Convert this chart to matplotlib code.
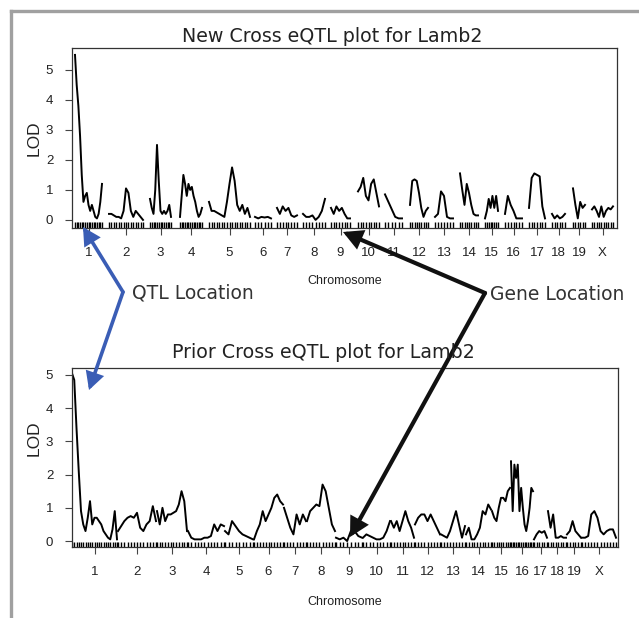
import numpy as np
import matplotlib
matplotlib.use('Agg')
import matplotlib.pyplot as plt
from matplotlib.patches import FancyArrowPatch
from matplotlib.lines import Line2D

# chromosome names
chroms = ['1', '2', '3', '4', '5', '6', '7', '8', '9', '10', '11', '12',
          '13', '14', '15', '16', '17', '18', '19', 'X']

# New cross: chromosome spans on the genome axis and LOD per marker
new_start = [3, 37, 78, 108, 137, 183, 205, 231, 259, 286, 313, 338, 363, 388, 413, 433, 457, 480, 501, 520]
new_end = [30, 71, 99, 130, 178, 199, 225, 253, 278, 307, 330, 356, 381, 406, 426, 450, 473, 493, 513, 541]
new_lod = [
    [5.5, 4.5, 3.8, 2.8, 1.5, 0.6, 0.8, 0.9, 0.5, 0.3, 0.5, 0.3, 0.1, 0.05, 0.2, 0.6, 1.2],
    [0.2, 0.2, 0.15, 0.1, 0.1, 0.05, 0.3, 1.05, 0.9, 0.3, 0.1, 0.3, 0.2, 0.1, 0.0],
    [0.7, 0.4, 0.2, 1.0, 2.5, 1.3, 0.3, 0.2, 0.3, 0.2, 0.3, 0.5, 0.1],
    [0.1, 0.8, 1.5, 1.2, 0.8, 1.2, 1.0, 1.1, 0.8, 0.6, 0.3, 0.1, 0.2, 0.4],
    [0.6, 0.3, 0.3, 0.25, 0.2, 0.15, 0.1, 0.6, 1.2, 1.75, 1.3, 0.5, 0.3, 0.5, 0.2, 0.4, 0.1],
    [0.1, 0.05, 0.1, 0.08, 0.1, 0.05],
    [0.4, 0.2, 0.45, 0.3, 0.4, 0.15, 0.1, 0.15],
    [0.2, 0.1, 0.1, 0.15, 0.0, 0.1, 0.3, 0.7],
    [0.4, 0.2, 0.45, 0.3, 0.4, 0.2, 0.05, 0.05],
    [0.95, 1.1, 1.4, 0.8, 0.65, 1.2, 1.35, 0.9, 0.45],
    [0.85, 0.6, 0.35, 0.1, 0.05, 0.05],
    [0.5, 1.3, 1.35, 1.3, 0.9, 0.4, 0.1, 0.3, 0.4],
    [0.1, 0.2, 0.95, 0.8, 0.1, 0.05, 0.05],
    [1.55, 1.0, 0.5, 1.2, 0.9, 0.5, 0.2, 0.15, 0.15],
    [0.05, 0.3, 0.7, 0.4, 0.8, 0.4, 0.8, 0.3],
    [0.2, 0.8, 0.5, 0.3, 0.05, 0.05, 0.05],
    [0.4, 1.4, 1.55, 1.5, 1.45, 0.45, 0.05],
    [0.2, 0.05, 0.15, 0.05, 0.1, 0.2],
    [1.05, 0.5, 0.05, 0.6, 0.4, 0.5],
    [0.35, 0.45, 0.3, 0.1, 0.45, 0.1, 0.3, 0.4, 0.35, 0.45],
]

# Prior cross
prior_start = [0, 46, 85, 116, 153, 182, 212, 235, 264, 291, 319, 343, 369, 394, 420, 439, 462, 476, 495, 510]
prior_end = [45, 84, 115, 152, 181, 211, 234, 263, 290, 318, 342, 368, 393, 419, 438, 461, 475, 494, 509, 544]
prior_lod = [
    [5.05, 4.85, 3.4, 2.1, 0.9, 0.5, 0.3, 0.7, 1.2, 0.5, 0.7, 0.7, 0.6, 0.5, 0.3, 0.2, 0.1, 0.05, 0.35, 0.9, 0.05],
    [0.3, 0.45, 0.6, 0.7, 0.75, 0.7, 0.85, 0.4, 0.3, 0.5, 0.6, 1.05, 0.6],
    [0.9, 0.5, 1.0, 0.6, 0.8, 0.8, 0.85, 0.9, 1.1, 1.5, 1.2, 0.3],
    [0.3, 0.1, 0.05, 0.05, 0.05, 0.1, 0.1, 0.15, 0.5, 0.3, 0.5, 0.45],
    [0.3, 0.2, 0.6, 0.45, 0.3, 0.2, 0.15, 0.1, 0.05],
    [0.05, 0.3, 0.5, 0.9, 0.6, 0.8, 1.0, 1.3, 1.4, 1.2, 1.1],
    [1.0, 0.7, 0.4, 0.2, 0.8, 0.5, 0.8, 0.6],
    [0.6, 0.9, 1.0, 1.1, 1.05, 1.7, 1.5, 1.0, 0.5, 0.3],
    [0.1, 0.05, 0.1, 0.0, 0.3, 0.3, 0.15, 0.1],
    [0.1, 0.2, 0.15, 0.1, 0.05, 0.05, 0.1, 0.3, 0.6],
    [0.6, 0.4, 0.6, 0.3, 0.6, 0.9, 0.6, 0.4, 0.1],
    [0.5, 0.7, 0.8, 0.8, 0.6, 0.8, 0.6, 0.4, 0.2],
    [0.2, 0.15, 0.1, 0.3, 0.6, 0.9, 0.5, 0.1, 0.45],
    [0.2, 0.4, 0.05, 0.05, 0.2, 0.4, 0.9, 0.8, 1.1, 0.95],
    [0.9, 0.7, 0.6, 1.0, 1.3, 1.3, 1.2, 1.5, 1.6],
    [2.4, 0.9, 2.3, 1.9, 2.3, 0.9, 1.6, 1.0, 0.5, 0.3, 0.6, 1.0, 1.6, 1.5],
    [0.05, 0.2, 0.3, 0.25, 0.3, 0.1],
    [0.9, 0.4, 0.8, 0.1, 0.1, 0.15, 0.1, 0.1],
    [0.2, 0.3, 0.6, 0.3, 0.2, 0.1],
    [0.1, 0.1, 0.15, 0.8, 0.9, 0.7, 0.3, 0.2, 0.3, 0.35, 0.35, 0.1],
]

W, H = 639, 618
fig = plt.figure(figsize=(W / 100, H / 100), dpi=100)
txt = '#222222'


def px(x, y):
    # pixel position (from top-left) -> figure fraction
    return (x / W, 1 - y / H)


def lod_panel(rect, starts, ends, lods, xmax, ylim, rug_h):
    ax = fig.add_axes(rect)
    for s, e, v in zip(starts, ends, lods):
        pos = np.linspace(s, e, len(v))
        ax.plot(pos, v, color='black', lw=1.4)
        ax.vlines(pos, 0, rug_h, transform=ax.get_xaxis_transform(), color='black', lw=1)
    ax.set_xlim(0, xmax)
    ax.set_ylim(*ylim)
    mids = [(s + e) / 2 for s, e in zip(starts, ends)]
    ax.set_xticks(mids)
    ax.set_xticklabels(chroms, family='Liberation Sans', fontsize=9.5, color=txt)
    ax.set_yticks(range(6))
    ax.set_yticklabels([str(i) for i in range(6)], family='Liberation Sans', fontsize=9.5, color=txt)
    ax.tick_params(length=5, width=0.8, pad=8.5, color='#444444')
    for sp in ax.spines.values():
        sp.set_linewidth(0.9)
        sp.set_color('#333333')
    return ax


ax1 = lod_panel([72 / W, 1 - 228 / H, 545 / W, 180 / H], new_start, new_end, new_lod, 545, (-0.27, 5.73), 0.033)
ax2 = lod_panel([72 / W, 1 - 547 / H, 546 / W, 179 / H], prior_start, prior_end, prior_lod, 546, (-0.18, 5.21), 0.028)

# titles and axis labels
fig.text(*px(332, 42), 'New Cross eQTL plot for Lamb2', ha='center', va='baseline', fontsize=13.7, color=txt)
fig.text(*px(323, 358), 'Prior Cross eQTL plot for Lamb2', ha='center', va='baseline', fontsize=13.7, color=txt)
fig.text(*px(34, 138), 'LOD', rotation=90, ha='center', va='center', family='Liberation Sans', fontsize=12.5, color=txt)
fig.text(*px(34, 438), 'LOD', rotation=90, ha='center', va='center', family='Liberation Sans', fontsize=12.5, color=txt)
fig.text(*px(345, 281), 'Chromosome', ha='center', va='center', family='Liberation Sans', fontsize=9, color=txt)
fig.text(*px(345, 602), 'Chromosome', ha='center', va='center', family='Liberation Sans', fontsize=9, color=txt)

# annotations
blue = '#3a5db5'
fig.text(*px(132, 293), 'QTL Location', ha='left', va='center', fontsize=13.5, color='#333333')
fig.text(*px(490, 295), 'Gene Location', ha='left', va='center', fontsize=13.5, color='#333333')


def arrow(a, b, color, lw, scale):
    fig.add_artist(FancyArrowPatch(px(*a), px(*b), transform=fig.transFigure,
                                   arrowstyle='-|>,head_length=0.6,head_width=0.32',
                                   mutation_scale=scale, lw=lw, color=color,
                                   shrinkA=0, shrinkB=0, joinstyle='miter'))


arrow((123, 292), (83, 227), blue, 2.6, 15)
arrow((123, 292), (89, 390), blue, 2.6, 15)
arrow((485, 293), (343, 232), '#111111', 3.0, 16)
arrow((485, 293), (350, 537), '#111111', 3.0, 16)

# grey frame of the panel
frame = '#a0a0a0'
fig.add_artist(Line2D([px(11, 11)[0], 1], [px(11, 11)[1]] * 2, transform=fig.transFigure, color=frame, lw=2.4))
fig.add_artist(Line2D([px(11, 11)[0]] * 2, [px(11, 11)[1], 0], transform=fig.transFigure, color=frame, lw=2.4))

fig.savefig('out.png', dpi=100)
